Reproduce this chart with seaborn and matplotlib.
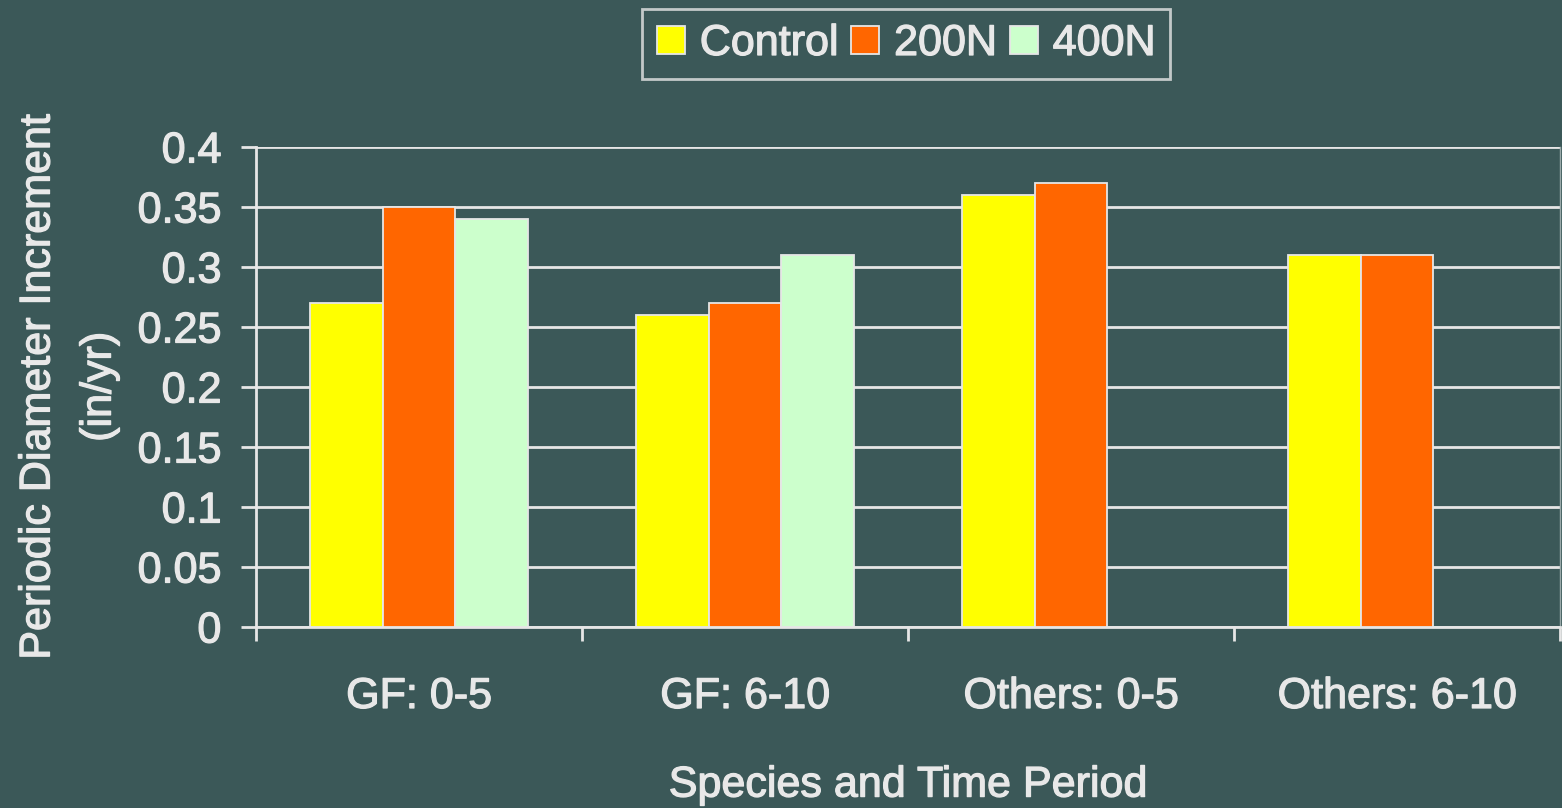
import matplotlib
matplotlib.use("Agg")
import matplotlib.pyplot as plt
import matplotlib.patheffects as pe
import seaborn as sns
import pandas as pd
import numpy as np

categories = ["GF: 0-5", "GF: 6-10", "Others: 0-5", "Others: 6-10"]
control = [0.27, 0.26, 0.36, 0.31]
n200 = [0.35, 0.27, 0.37, 0.31]
n400 = [0.34, 0.31, np.nan, np.nan]
series_names = ["Control", "200N", "400N"]
y_ticks = [0, 0.05, 0.1, 0.15, 0.2, 0.25, 0.3, 0.35, 0.4]
y_tick_labels = ["0", "0.05", "0.1", "0.15", "0.2", "0.25", "0.3", "0.35", "0.4"]

df = pd.DataFrame({
    "Category": categories * 3,
    "Series": sum([[s] * len(categories) for s in series_names], []),
    "Value": control + n200 + n400,
})

BG = "#3b5858"
FG = "#e8e8e8"
LINE = "#e6e6e6"
colors = ["#FFFF00", "#FF6600", "#CCFFCC"]

sns.set_theme(style="white")
plt.rcParams["font.family"] = ["Liberation Sans", "DejaVu Sans"]

fig = plt.figure(figsize=(15.62, 8.08), dpi=100, facecolor=BG)
ax = fig.add_axes([256/1562, 1-627/808, (1560-256)/1562, (627-147)/808])
ax.set_facecolor(BG)

sns.barplot(data=df, x="Category", y="Value", hue="Series", order=categories,
            hue_order=series_names, palette=colors, width=0.67, ax=ax,
            edgecolor=LINE, linewidth=1.3, saturation=1, zorder=3)

ax.set_ylim(0, 0.4)
ax.set_xlim(-0.5, 3.5)
ax.set_yticks(y_ticks)
ax.set_yticklabels(y_tick_labels)
ax.yaxis.grid(True, color=LINE, linewidth=2, zorder=0)
ax.set_axisbelow(True)
for s in ["left", "bottom"]:
    ax.spines[s].set_color(LINE)
    ax.spines[s].set_linewidth(2)
ax.spines["top"].set_visible(False)
ax.spines["right"].set_color("#9aaaaa")
ax.spines["right"].set_linewidth(1)

ax.tick_params(axis="y", which="major", direction="out", length=11, width=2,
               color=LINE, labelcolor=FG, labelsize=31, pad=14, left=True)
ax.set_xticks(range(len(categories)))
ax.set_xticklabels(categories)
ax.set_xticks([-0.5, 0.5, 1.5, 2.5, 3.5], minor=True)
ax.tick_params(axis="x", which="major", length=0, labelcolor=FG, labelsize=31, pad=36)
ax.tick_params(axis="x", which="minor", direction="out", length=10, width=2,
               color=LINE, bottom=True)

ax.set_xlabel("Species and Time Period", color=FG, fontsize=31, labelpad=35)
ax.set_ylabel("Periodic Diameter Increment\n(in/yr)", color=FG, fontsize=31,
              labelpad=13, linespacing=1.68)

leg = ax.legend(loc="center", bbox_to_anchor=(906/1562, 1-44/808),
                bbox_transform=fig.transFigure, ncol=3, frameon=True, fancybox=False,
                fontsize=31, handlelength=0.65, handleheight=0.65, handletextpad=0.35,
                columnspacing=0.3, borderpad=0.35, borderaxespad=0)
leg.get_frame().set_edgecolor(LINE)
leg.get_frame().set_facecolor("none")
leg.get_frame().set_linewidth(2)
for t in leg.get_texts():
    t.set_color(FG)
leg.set_title(None)

thick = [pe.withStroke(linewidth=0.9, foreground=FG)]
for t in (ax.get_xticklabels() + ax.get_yticklabels() + leg.get_texts()
          + [ax.xaxis.label, ax.yaxis.label]):
    t.set_path_effects(thick)

fig.savefig("out.png", dpi=100, facecolor=BG)
